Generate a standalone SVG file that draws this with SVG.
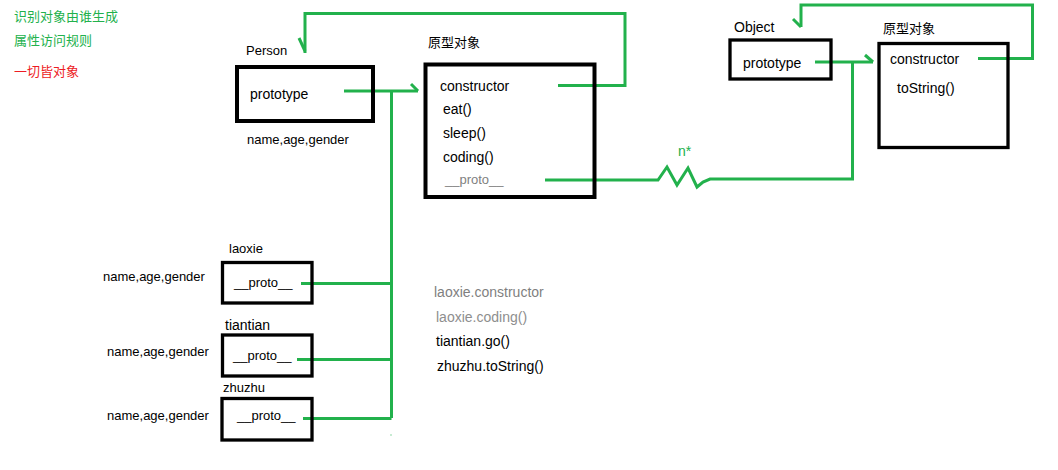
<svg xmlns="http://www.w3.org/2000/svg" width="1058" height="470" viewBox="0 0 1058 470">
<style>
text{font-family:"Liberation Sans","Noto Sans CJK SC",sans-serif;font-size:14px;fill:#000}
.sm{font-size:13px}
.g{fill:#22b14c}
.r{fill:#ed1c24}
.gray{fill:#7f7f7f}
.lg{fill:#8e8e8e}
.box{fill:none;stroke:#000}
.b4{stroke-width:4}
.b3{stroke-width:3.3}
.ln{fill:none;stroke:#22b14c;stroke-width:3;stroke-linejoin:miter}
</style>
<rect width="1058" height="470" fill="#fff"/>
<g id="legend">
<text class="g sm" x="14" y="21">识别对象由谁生成</text>
<text class="g sm" x="14" y="45">属性访问规则</text>
<text class="r sm" x="14" y="76">一切皆对象</text>
</g>
<g id="connectors">
<path class="ln" d="M558 85.5H625V13.5H305V53"/>
<path class="ln" d="M299 38L305 51"/>
<path class="ln" d="M344 91H418"/>
<path class="ln" d="M411 84L418 91"/>
<path class="ln" d="M391.5 91V418"/>
<path class="ln" d="M301 283.5H391.5"/>
<path class="ln" d="M297 359.5H391.5"/>
<path class="ln" d="M303 418.5H391.5"/>
<path class="ln" d="M545 180H658L667 167L677 185L688 168L697 187L703 182L710 179H852.5V62"/>
<path class="ln" d="M815 62H873"/>
<path class="ln" d="M865 55L873 62"/>
<path class="ln" d="M978 58.5H1032.5V5H801V27"/>
<path class="ln" d="M793 19L801 27"/>
<rect x="390.5" y="434.5" width="1" height="1" fill="#22b14c"/>
<text class="g" x="678" y="156">n*</text>
</g>
<g id="person">
<text class="sm" x="246" y="55">Person</text>
<rect class="box b4" x="237" y="67" width="136" height="54"/>
<text x="250" y="99">prototype</text>
<text class="sm" x="247" y="144">name,age,gender</text>
</g>
<g id="person-proto">
<text class="sm" x="428" y="47">原型对象</text>
<rect class="box b4" x="425.5" y="64.5" width="169" height="132.5"/>
<text x="440" y="91">constructor</text>
<text x="443" y="114">eat()</text>
<text x="443" y="138">sleep()</text>
<text x="443" y="162">coding()</text>
<text class="gray sm" x="445" y="184">__proto__</text>
</g>
<g id="object">
<text x="734" y="32">Object</text>
<rect class="box b3" x="730" y="40" width="101" height="39"/>
<text x="743" y="68">prototype</text>
</g>
<g id="object-proto">
<text class="sm" x="883" y="33">原型对象</text>
<rect class="box b3" x="879" y="43.5" width="129" height="104"/>
<text x="890" y="64">constructor</text>
<text x="897" y="93">toString()</text>
</g>
<g id="laoxie">
<text class="sm" x="229" y="253">laoxie</text>
<text class="sm" x="103" y="281">name,age,gender</text>
<rect class="box b3" x="222.5" y="262.5" width="89.5" height="40.5"/>
<text class="sm" x="234" y="287">__proto__</text>
</g>
<g id="tiantian">
<text x="225" y="330">tiantian</text>
<text class="sm" x="107" y="356">name,age,gender</text>
<rect class="box b3" x="222.5" y="335" width="89.5" height="41"/>
<text class="sm" x="233" y="360">__proto__</text>
</g>
<g id="zhuzhu">
<text class="sm" x="223" y="392">zhuzhu</text>
<text class="sm" x="107" y="420">name,age,gender</text>
<rect class="box b3" x="222" y="398.5" width="90" height="41.5"/>
<text class="sm" x="237" y="420">__proto__</text>
</g>
<g id="notes">
<text class="gray" x="434" y="297">laoxie.constructor</text>
<text class="lg" x="436" y="322">laoxie.coding()</text>
<text x="436" y="346">tiantian.go()</text>
<text x="437" y="371">zhuzhu.toString()</text>
</g>
</svg>
